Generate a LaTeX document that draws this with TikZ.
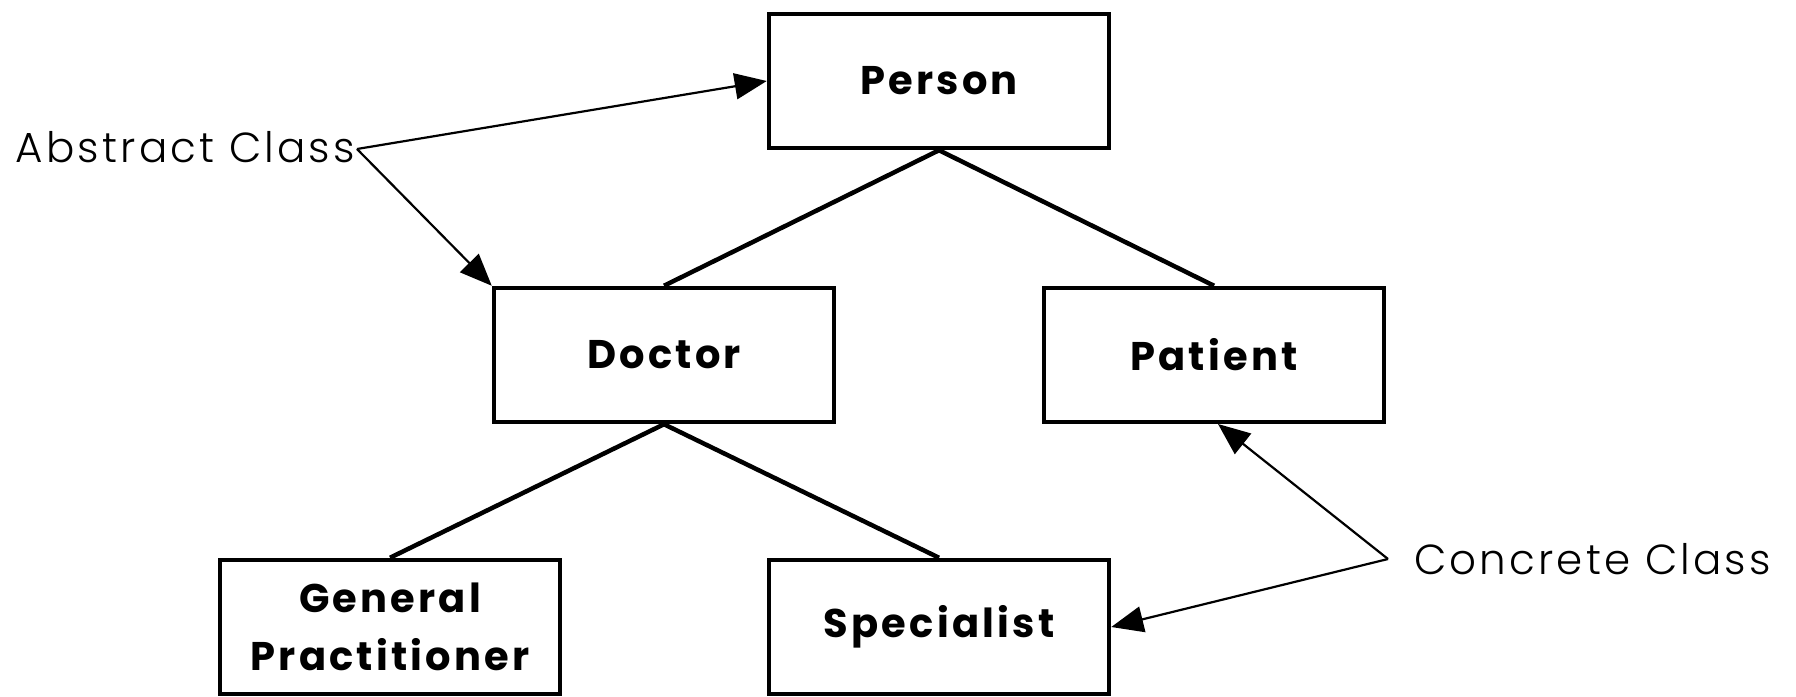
\documentclass[tikz,border=0pt]{standalone}
\usepackage{fontspec}
\setmainfont{Poppins}[LetterSpace=8]
\newfontfamily\thinfont{Poppins}[UprightFont=* Light,LetterSpace=7.5]
\usetikzlibrary{arrows.meta}
\begin{document}
\begin{tikzpicture}[x=1pt,y=-1pt,
  classbox/.style={draw,line width=4.5pt,minimum width=340pt,minimum height=134pt,
    inner sep=0pt,align=center,font=\fontsize{40}{58}\selectfont\bfseries},
  link/.style={line width=4.5pt},
  pointer/.style={line width=2.2pt,-{Triangle[length=32pt,width=26pt]}},
  note/.style={inner sep=0pt,font=\fontsize{42}{50}\selectfont\thinfont}]
\useasboundingbox (0,0) rectangle (1796,696);
% class hierarchy
\node[classbox] (person) at (939,81) {Person};
\node[classbox] (doctor) at (664,355) {Doctor};
\node[classbox] (patient) at (1214,355) {Patient};
\node[classbox] (gp) at (390,627) {General\\Practitioner};
\node[classbox] (spec) at (939,627) {Specialist};
\draw[link] (person.south) -- (doctor.north);
\draw[link] (person.south) -- (patient.north);
\draw[link] (doctor.south) -- (gp.north);
\draw[link] (doctor.south) -- (spec.north);
% annotations
\node[note,anchor=east] (abstract) at (355,147) {Abstract Class};
\node[note,anchor=west] (concrete) at (1414,559) {Concrete Class};
\coordinate (abs) at (357,149);
\coordinate (con) at (1388,559);
\draw[pointer] (abs) -- (person.west);
\draw[pointer] (abs) -- (doctor.north west);
\draw[pointer] (con) -- (1218,424);
\draw[pointer] (con) -- (spec.east);
\end{tikzpicture}
\end{document}
